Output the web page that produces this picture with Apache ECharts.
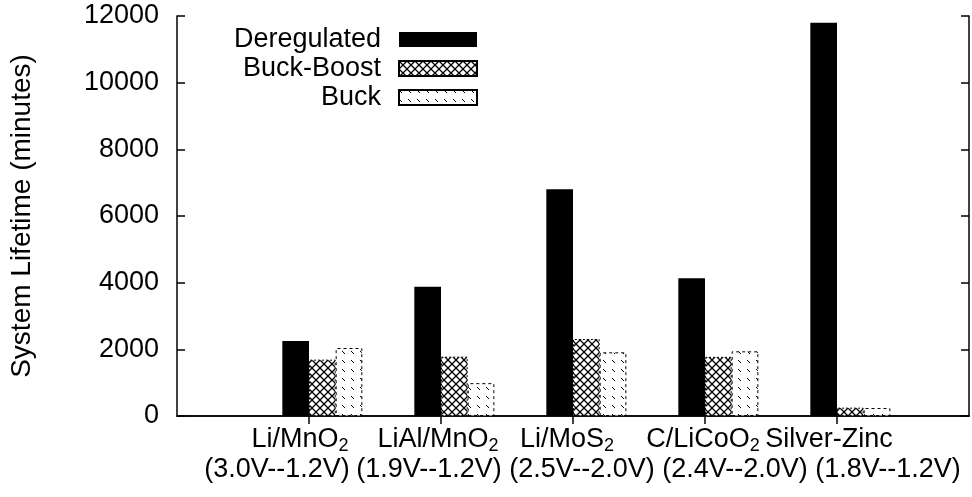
<!DOCTYPE html>
<html>
<head>
<meta charset="utf-8">
<script src="https://cdn.jsdelivr.net/npm/echarts@6/dist/echarts.min.js"></script>
<style>
html,body{margin:0;padding:0;background:#fff;}
#chart{width:972px;height:497px;}
</style>
</head>
<body>
<div id="chart"></div>
<script>
// ---- data ----
var batteryNames = ['Li/MnO', 'LiAl/MnO', 'Li/MoS', 'C/LiCoO', 'Silver-Zinc'];
var batterySubscripts = ['2', '2', '2', '2', ''];
var voltageRanges = ['(3.0V--1.2V)', '(1.9V--1.2V)', '(2.5V--2.0V)', '(2.4V--2.0V)', '(1.8V--1.2V)'];
var seriesNames = ['Deregulated', 'Buck-Boost', 'Buck'];
var deregulated = [2250, 3880, 6800, 4130, 11800];
var buckBoost = [1690, 1780, 2310, 1775, 250];
var buck = [2040, 985, 1910, 1940, 240];
var yTicks = [0, 2000, 4000, 6000, 8000, 10000, 12000];

// horizontal shifts (px) of the two label lines relative to the tick (style only)
var nameShift = [-9, -3, -6, -2, -8];
var rangeShift = [-32, -12, 9, 30, 51];

// ---- patterns ----
function makeCross() {
  var c = document.createElement('canvas');
  c.width = 8; c.height = 8;
  var g = c.getContext('2d');
  g.fillStyle = '#fff'; g.fillRect(0, 0, 8, 8);
  g.strokeStyle = '#000'; g.lineWidth = 1.3;
  g.beginPath();
  g.moveTo(0, 0); g.lineTo(8, 8);
  g.moveTo(0, 8); g.lineTo(8, 0);
  g.stroke();
  return c;
}
function makeDiag() {
  var c = document.createElement('canvas');
  c.width = 9; c.height = 9;
  var g = c.getContext('2d');
  g.fillStyle = '#fff'; g.fillRect(0, 0, 9, 9);
  g.strokeStyle = '#000'; g.lineWidth = 1;
  g.beginPath();
  g.moveTo(0, 0); g.lineTo(3, 3);
  g.stroke();
  return c;
}

var cats = [''].concat(batteryNames.map(function (n, i) { return String(i); })).concat(['']);
function pad(arr) { return ['-'].concat(arr).concat(['-']); }

var FONT = 'Liberation Sans';
var rich = {};
batteryNames.forEach(function (n, i) {
  var d = nameShift[i];
  var hasSub = !!batterySubscripts[i];
  var left = d > 0 ? 2 * d : 0, right = d < 0 ? -2 * d : 0;
  rich['n' + i] = { fontFamily: FONT, fontSize: 27, lineHeight: 30, color: '#000', padding: [0, hasSub ? 0 : right, 0, left] };
  rich['s' + i] = { fontFamily: FONT, fontSize: 18, lineHeight: 12, verticalAlign: 'bottom', color: '#000', padding: [0, right, 0, 0] };
  var e = rangeShift[i];
  rich['v' + i] = { fontFamily: FONT, fontSize: 27, lineHeight: 30, color: '#000', padding: [0, e < 0 ? -2 * e : 0, 0, e > 0 ? 2 * e : 0] };
});

var chart = echarts.init(document.getElementById('chart'));
var option = {
  animation: false,
  textStyle: { fontFamily: FONT, color: '#000' },
  grid: { left: 176, top: 16, right: -4, bottom: 81, containLabel: false },
  legend: {
    data: seriesNames,
    orient: 'vertical',
    align: 'right',
    right: 494,
    top: 26,
    padding: 0,
    itemWidth: 78,
    itemHeight: 15,
    itemGap: 2,
    icon: 'rect',
    textStyle: { fontFamily: FONT, fontSize: 27, lineHeight: 22, color: '#000', padding: [0, 13, 0, 0] }
  },
  xAxis: [{
    type: 'category',
    data: cats,
    boundaryGap: false,
    axisLine: { lineStyle: { color: '#000', width: 1.5 } },
    axisTick: { inside: true, length: 8, interval: function (i) { return i > 0 && i < cats.length - 1; }, lineStyle: { color: '#000', width: 1.5 } },
    axisLabel: {
      interval: 0,
      margin: 9,
      formatter: function (v) {
        if (v === '') return '';
        var i = +v;
        var s = batterySubscripts[i] ? '{s' + i + '|' + batterySubscripts[i] + '}' : '';
        return '{n' + i + '|' + batteryNames[i] + '}' + s + '\n{v' + i + '|' + voltageRanges[i] + '}';
      },
      rich: rich
    },
    splitLine: { show: false }
  }, {
    type: 'category',
    data: cats,
    boundaryGap: false,
    position: 'top',
    axisLine: { lineStyle: { color: '#000', width: 1.5 } },
    axisTick: { inside: true, length: 8, interval: function (i) { return i > 0 && i < cats.length - 1; }, lineStyle: { color: '#000', width: 1.5 } },
    axisLabel: { show: false },
    splitLine: { show: false }
  }],
  yAxis: [{
    type: 'value',
    min: yTicks[0],
    max: yTicks[yTicks.length - 1],
    interval: yTicks[1] - yTicks[0],
    name: 'System Lifetime (minutes)',
    nameLocation: 'middle',
    nameRotate: 90,
    nameGap: 141,
    nameTextStyle: { fontFamily: FONT, fontSize: 28, color: '#000' },
    axisLine: { show: true, lineStyle: { color: '#000', width: 1.5 } },
    axisTick: { show: true, inside: true, length: 8, lineStyle: { color: '#000', width: 1.5 } },
    axisLabel: { fontFamily: FONT, fontSize: 27, color: '#000', margin: 18, formatter: function (v) { return String(v); } },
    splitLine: { show: false }
  }, {
    type: 'value',
    position: 'right',
    min: yTicks[0],
    max: yTicks[yTicks.length - 1],
    interval: yTicks[1] - yTicks[0],
    axisLine: { show: true, lineStyle: { color: '#000', width: 1.5 } },
    axisTick: { show: true, inside: true, length: 8, lineStyle: { color: '#000', width: 1.5 } },
    axisLabel: { show: false },
    splitLine: { show: false }
  }],
  series: [{
    name: 'spacer',
    type: 'bar',
    barWidth: 26.67,
    barGap: '0%',
    data: []
  }, {
    name: seriesNames[0],
    type: 'bar',
    barWidth: 26.67,
    barGap: '0%',
    itemStyle: { color: '#000' },
    data: pad(deregulated)
  }, {
    name: seriesNames[1],
    type: 'bar',
    barWidth: 26.67,
    barGap: '0%',
    itemStyle: { color: { image: makeCross(), repeat: 'repeat' }, borderColor: '#000', borderWidth: 1, borderType: [2, 2] },
    data: pad(buckBoost)
  }, {
    name: seriesNames[2],
    type: 'bar',
    barWidth: 26.67,
    barGap: '0%',
    itemStyle: { color: { image: makeDiag(), repeat: 'repeat' }, borderColor: '#000', borderWidth: 1, borderType: [3, 3] },
    data: pad(buck)
  }]
};
chart.setOption(option);
</script>
</body>
</html>
